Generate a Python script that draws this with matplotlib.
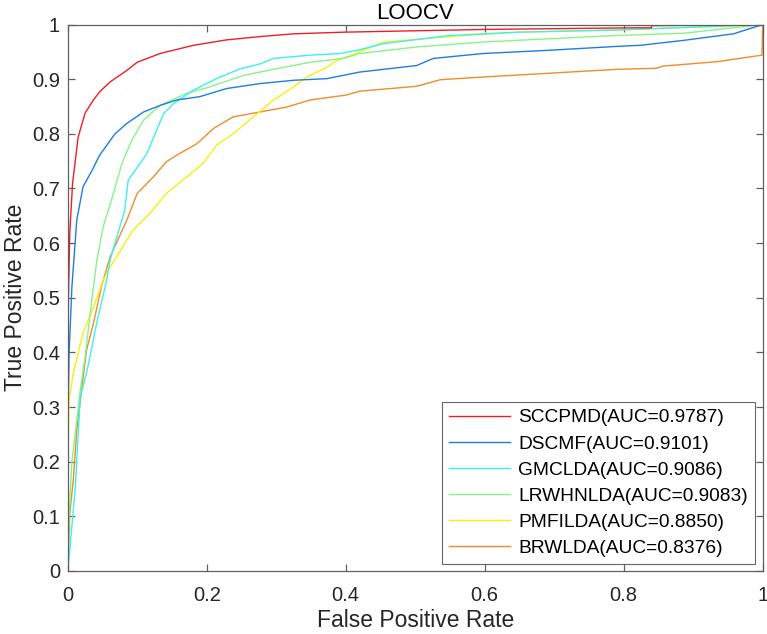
import matplotlib
matplotlib.use("Agg")
import matplotlib.pyplot as plt

plt.rcParams['font.family'] = ['Liberation Sans', 'DejaVu Sans']

labels = ["SCCPMD(AUC=0.9787)", "DSCMF(AUC=0.9101)", "GMCLDA(AUC=0.9086)",
          "LRWHNLDA(AUC=0.9083)", "PMFILDA(AUC=0.8850)", "BRWLDA(AUC=0.8376)"]
colors = ["#F01E23", "#1C7FE0", "#3CF0F0", "#86F586", "#F5F00F", "#F08C2A"]

sccpmd_fpr = [0, 0, 0.001, 0.003, 0.007, 0.015, 0.025, 0.037, 0.046, 0.061, 0.085, 0.10, 0.133, 0.181,
              0.229, 0.277, 0.325, 0.396, 0.598, 0.814, 0.84, 0.84, 0.934, 1.0]
sccpmd_tpr = [0, 0.35, 0.50, 0.62, 0.71, 0.794, 0.838, 0.862, 0.877, 0.895, 0.916, 0.931, 0.947, 0.962,
              0.972, 0.978, 0.983, 0.986, 0.991, 0.994, 0.994, 0.998, 0.999, 1.0]

dscmf_fpr = [0, 0, 0.002, 0.006, 0.013, 0.022, 0.035, 0.046, 0.068, 0.085, 0.109, 0.133, 0.157, 0.19,
             0.229, 0.277, 0.325, 0.373, 0.42, 0.502, 0.526, 0.598, 0.694, 0.79, 0.824, 0.886, 0.958, 1.0]
dscmf_tpr = [0, 0.25, 0.40, 0.52, 0.642, 0.703, 0.733, 0.761, 0.80, 0.819, 0.84, 0.852, 0.862, 0.868,
             0.883, 0.892, 0.898, 0.901, 0.913, 0.925, 0.938, 0.947, 0.953, 0.960, 0.962, 0.971, 0.983, 1.0]

gmclda_fpr = [0, 0.003, 0.011, 0.013, 0.018, 0.027, 0.032, 0.042, 0.056, 0.061, 0.075, 0.082, 0.087,
              0.097, 0.114, 0.128, 0.138, 0.152, 0.181, 0.214, 0.248, 0.277, 0.296, 0.349, 0.392, 0.42,
              0.454, 0.55, 0.647, 0.79, 1.0]
gmclda_tpr = [0, 0.038, 0.154, 0.203, 0.319, 0.362, 0.392, 0.456, 0.532, 0.569, 0.63, 0.66, 0.715,
              0.733, 0.764, 0.807, 0.837, 0.855, 0.88, 0.901, 0.919, 0.928, 0.938, 0.944, 0.947, 0.954,
              0.965, 0.98, 0.986, 0.99, 1.0]

lrwhnlda_fpr = [0, 0.002, 0.006, 0.018, 0.025, 0.035, 0.042, 0.051, 0.063, 0.078, 0.092, 0.109, 0.133,
                0.171, 0.205, 0.253, 0.296, 0.349, 0.397, 0.42, 0.502, 0.598, 0.694, 0.79, 0.886, 1.0]
lrwhnlda_tpr = [0, 0.10, 0.20, 0.331, 0.392, 0.50, 0.569, 0.63, 0.679, 0.746, 0.788, 0.825, 0.852,
                0.874, 0.886, 0.907, 0.918, 0.931, 0.938, 0.947, 0.959, 0.968, 0.974, 0.98, 0.984, 1.0]

pmfilda_fpr = [0, 0.001, 0.002, 0.008, 0.022, 0.037, 0.051, 0.056, 0.066, 0.094, 0.118, 0.142, 0.171,
               0.195, 0.214, 0.238, 0.267, 0.296, 0.325, 0.344, 0.373, 0.387, 0.42, 0.454, 0.55, 0.647,
               0.79, 1.0]
pmfilda_tpr = [0, 0.258, 0.313, 0.362, 0.435, 0.483, 0.532, 0.545, 0.566, 0.624, 0.654, 0.691, 0.721,
               0.746, 0.779, 0.80, 0.831, 0.862, 0.886, 0.904, 0.922, 0.934, 0.950, 0.968, 0.978, 0.986,
               0.99, 1.0]

brwlda_fpr = [0, 0.003, 0.008, 0.013, 0.02, 0.027, 0.037, 0.049, 0.061, 0.085, 0.10, 0.123, 0.142,
              0.157, 0.186, 0.21, 0.238, 0.277, 0.315, 0.349, 0.401, 0.42, 0.502, 0.536, 0.598, 0.694,
              0.79, 0.847, 0.857, 0.934, 0.999, 1.0]
brwlda_tpr = [0, 0.106, 0.166, 0.258, 0.331, 0.404, 0.453, 0.523, 0.575, 0.642, 0.691, 0.721, 0.749,
              0.761, 0.782, 0.81, 0.831, 0.84, 0.849, 0.862, 0.871, 0.878, 0.887, 0.899, 0.904, 0.911,
              0.918, 0.92, 0.924, 0.932, 0.944, 1.0]

series = [(sccpmd_fpr, sccpmd_tpr), (dscmf_fpr, dscmf_tpr), (gmclda_fpr, gmclda_tpr),
          (lrwhnlda_fpr, lrwhnlda_tpr), (pmfilda_fpr, pmfilda_tpr), (brwlda_fpr, brwlda_tpr)]

ticks = [0, 0.2, 0.4, 0.6, 0.8, 1]
yticks = [0, 0.1, 0.2, 0.3, 0.4, 0.5, 0.6, 0.7, 0.8, 0.9, 1]

fig = plt.figure(figsize=(7.67, 6.34), dpi=100)
ax = fig.add_axes([0.0883, 0.0994, 0.9061, 0.8619])

# draw in reverse so red is on top
for (fx, ty), c, lab in list(zip(series, colors, labels))[::-1]:
    ax.plot(fx, ty, color=c, lw=1.0, label=lab)

ax.set_xlim(0, 1)
ax.set_ylim(0, 1)
ax.set_xticks(ticks)
ax.set_xticklabels(["0", "0.2", "0.4", "0.6", "0.8", "1"])
ax.set_yticks(yticks)
ax.set_yticklabels(["0", "0.1", "0.2", "0.3", "0.4", "0.5", "0.6", "0.7", "0.8", "0.9", "1"])
ax.tick_params(direction='in', top=True, right=True, length=5, width=0.9,
               labelsize=14.5, color='#606060', labelcolor='#262626')
ax.tick_params(axis='x', pad=11)
ax.tick_params(axis='y', pad=5.5)
for s in ax.spines.values():
    s.set_color('#606060')
    s.set_linewidth(0.9)
ax.set_xlabel("False Positive Rate", fontsize=16.5, color='#262626', labelpad=3)
ax.set_ylabel("True Positive Rate", fontsize=16.5, color='#262626', labelpad=4)
ax.set_title("LOOCV", fontsize=16, color='black', pad=4)

handles, labs = ax.get_legend_handles_labels()
leg = ax.legend(handles[::-1], labs[::-1], loc='lower right', bbox_to_anchor=(0.989, 0.0128),
                fontsize=13.8, frameon=True, fancybox=False, edgecolor='#404040',
                handlelength=3.2, handletextpad=0.4, borderaxespad=0, labelspacing=0.45,
                borderpad=0.38)
leg.get_frame().set_linewidth(0.8)

fig.savefig("out.png", dpi=100)
